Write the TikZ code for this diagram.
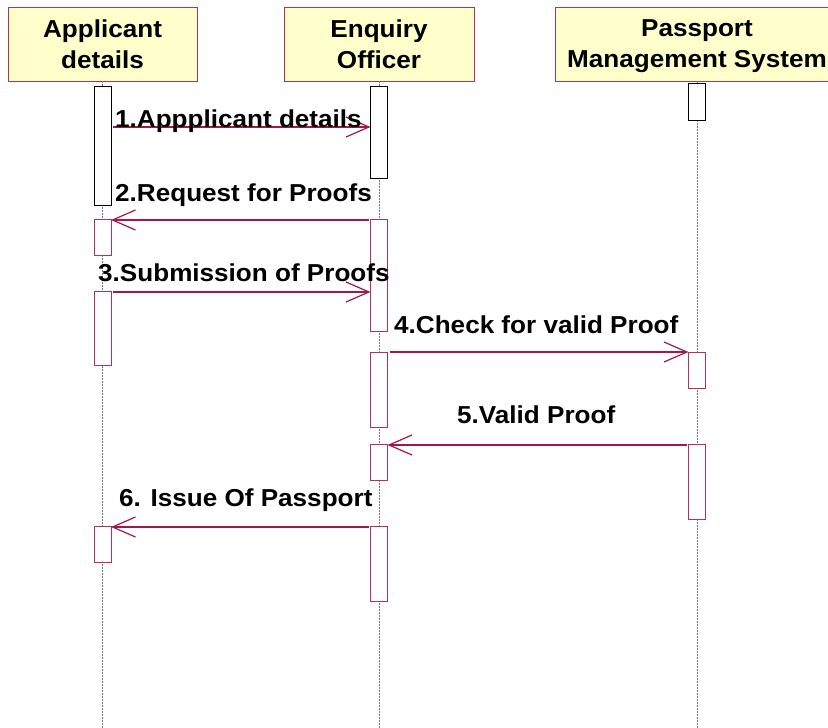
\documentclass[tikz,border=0pt]{standalone}
\usepackage{fontspec}
\usepackage{tikz}
\usetikzlibrary{arrows.meta, positioning}
\newfontfamily\umlfont[FakeStretch=1.065]{Liberation Sans}
\definecolor{cHead}{HTML}{FFFFCC}
\definecolor{cEdge}{HTML}{B03358}
\definecolor{cMsg}{HTML}{A3174A}
\definecolor{cLife}{HTML}{7A7A7A}

\begin{document}
\begin{tikzpicture}[
    x=1pt, y=-1pt,
    >=Latex,
    head/.style={draw=cEdge, fill=cHead, line width=1pt, minimum height=74pt,
                 inner sep=0pt, outer sep=0pt, align=center,
                 font={\umlfont\bfseries\fontsize{24.5}{31}\selectfont}},
    life/.style={draw=cLife, line width=0.8pt, dash pattern=on 2pt off 1pt},
    act/.style={fill=white, line width=1pt, minimum width=17pt,
                inner sep=0pt, outer sep=0pt},
    msg/.style={draw=cMsg, line width=1.2pt, shorten <=2pt,
                -{Straight Barb[length=23pt, width=20pt]}},
    msglab/.style={anchor=base west, inner sep=0pt,
                   font={\umlfont\bfseries\fontsize{24.5}{31}\selectfont}},
]

\useasboundingbox (0,0) rectangle (828,728);

% ---------- Helper macro: activation bar from top to bottom ----------
\newcommand{\actbox}[5]{%
  \pgfmathsetmacro\ymid{(#3+#4)/2}
  \pgfmathsetmacro\hgt{#4-#3}
  \node[act, draw=#5, minimum height=\hgt pt] (#1) at (#2,\ymid) {};
}

% ---------- Lifeline heads ----------
\node[head, minimum width=189pt] (app) at (102.5,44) {Applicant\\details};
\node[head, minimum width=190pt] (enq) at (379,44)   {Enquiry\\Officer};
\node[head, minimum width=284pt] (pms) at (697,44)   {Passport\\\smash{Management System}};

% ---------- Lifelines ----------
\foreach \hd/\xx in {app/102.5, enq/379, pms/697}{
  \coordinate (\hd-end) at (\xx,728);
  \draw[life] (\hd.south) -- (\hd-end);
}

% ---------- Activation bars ----------
\foreach \nm/\xx/\ya/\yb/\col in {a1/102.5/86/205/black, a2/102.5/219/255/cEdge,
    a3/102.5/291/365/cEdge, a4/102.5/526/562/cEdge,
    e1/379/86/178/black, e2/379/219/331/cEdge, e3/379/352/427/cEdge,
    e4/379/444/480/cEdge, e5/379/526/601/cEdge,
    p1/697/83/120/black, p2/697/352/388/cEdge, p3/697/444/519/cEdge}{
  \actbox{\nm}{\xx}{\ya}{\yb}{\col}
}

% ---------- Messages ----------
\foreach \from/\to/\yy in {a1.east/e1.west/127, e2.west/a2.east/220,
    a3.east/e2.west/292, e3.east/p2.west/352,
    p3.west/e4.east/445, e5.west/a4.east/527}{
  \draw[msg] (\from |- 0,\yy) -- (\to |- 0,\yy);
}

% ---------- Message labels ----------
\foreach \nm/\xx/\yy/\txt in {l1/115/127/1.Appplicant details,
    l2/115/201/2.Request for Proofs, l3/98/281/3.Submission of Proofs,
    l4/394/333/4.Check for valid Proof, l5/457/423/5.Valid Proof,
    l6/119/506/6. Issue Of Passport}{
  \node[msglab] (\nm) at (\xx,\yy) {\txt};
}

\end{tikzpicture}
\end{document}
